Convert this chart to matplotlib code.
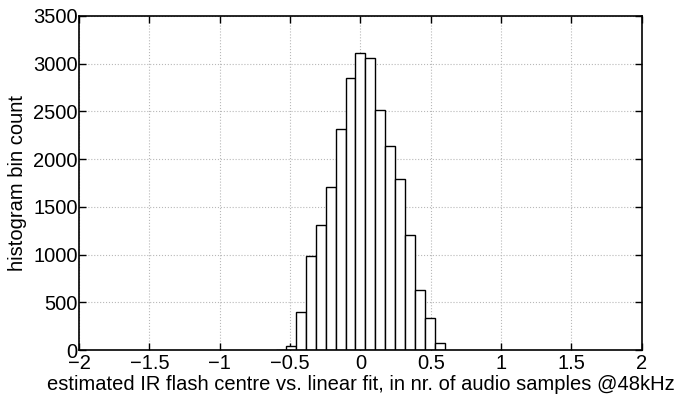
import numpy as np
import matplotlib.pyplot as plt

plt.rcParams['font.family'] = ['Liberation Sans', 'DejaVu Sans']

# histogram bins
bin_centres = [-0.563, -0.493, -0.422, -0.352, -0.281, -0.211, -0.141, -0.070,
               0.0, 0.070, 0.141, 0.211, 0.281, 0.352, 0.422, 0.493, 0.563]
bin_counts = [5, 45, 397, 990, 1307, 1708, 2318, 2848,
              3113, 3054, 2514, 2140, 1795, 1206, 634, 335, 73]
bin_width = 0.0703

xticks = [-2, -1.5, -1, -0.5, 0, 0.5, 1, 1.5, 2]
yticks = [0, 500, 1000, 1500, 2000, 2500, 3000, 3500]

fig = plt.figure(figsize=(6.77, 3.94), dpi=100)
ax = fig.add_axes([0.1167, 0.111, 0.8313, 0.849])

ax.bar(bin_centres, bin_counts, width=bin_width, color='white',
       edgecolor='black', linewidth=1.0)

ax.set_xlim(-2, 2)
ax.set_ylim(0, 3500)
ax.set_xticks(xticks)
ax.set_xticklabels([('%g' % t).replace('-', '\u2212') for t in xticks])
ax.set_yticks(yticks)
ax.set_axisbelow(True)
ax.grid(True, linestyle=':', color='#b8b8b8', linewidth=0.8)
ax.tick_params(direction='in', length=5, width=1, top=True, right=True,
               labelsize=14.5, pad=1)
ax.tick_params(axis='x', pad=3)
for s in ax.spines.values():
    s.set_linewidth(1.2)

ax.set_xlabel('estimated IR flash centre vs. linear fit, in nr. of audio samples @48kHz',
              fontsize=14.5, labelpad=1)
ax.set_ylabel('histogram bin count', fontsize=14.5, labelpad=4)

fig.savefig('out.png', dpi=100)
